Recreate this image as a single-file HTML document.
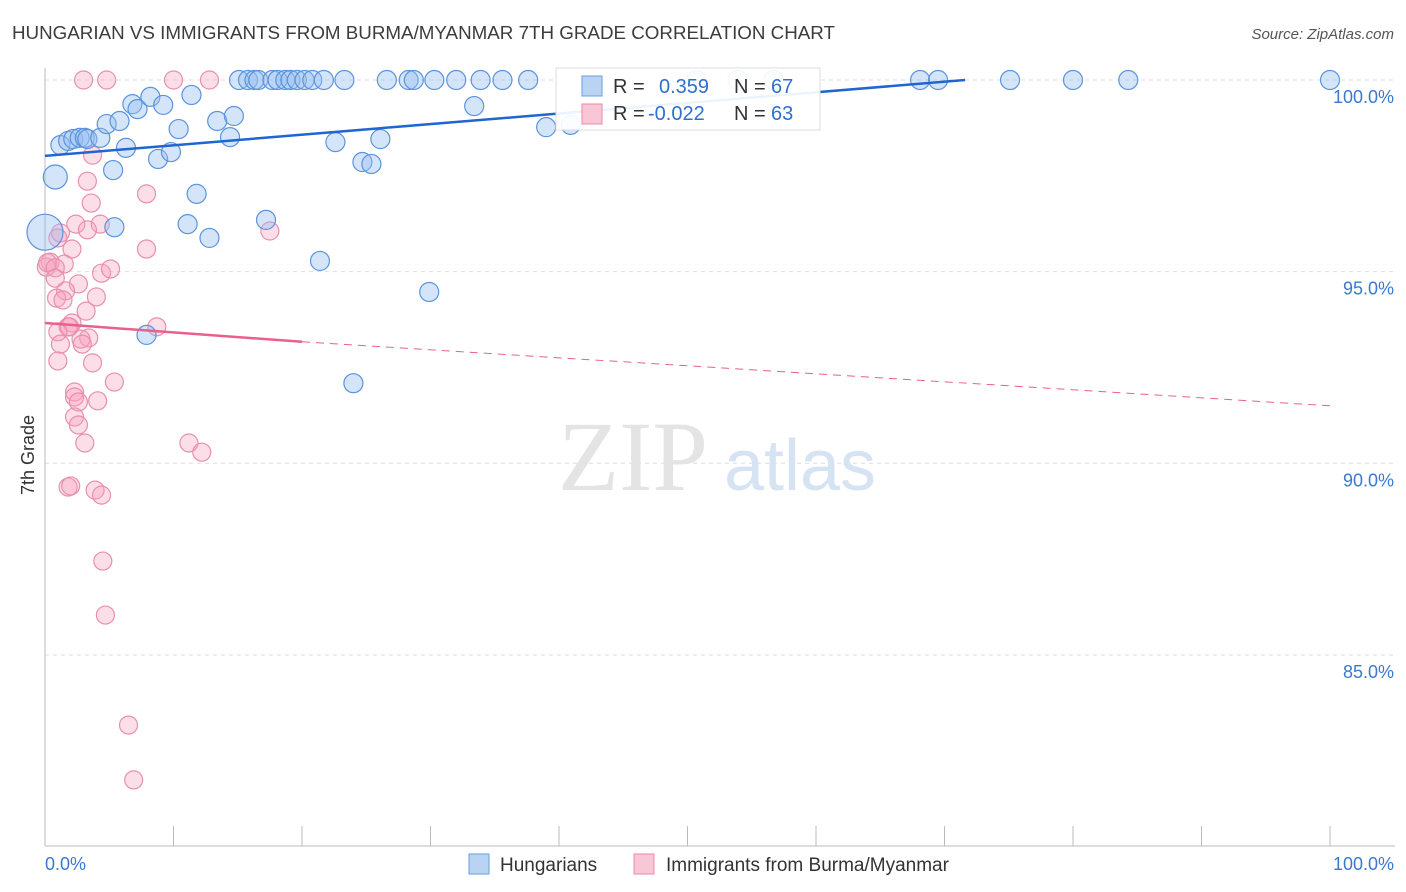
<!DOCTYPE html>
<html><head><meta charset="utf-8"><style>
body{margin:0;background:#fff;font-family:"Liberation Sans",sans-serif}
svg{display:block}
</style></head><body>
<svg id="chart" width="1406" height="892">
<text x="12" y="39" font-size="18" textLength="823" lengthAdjust="spacingAndGlyphs" fill="#3c3c3c">HUNGARIAN VS IMMIGRANTS FROM BURMA/MYANMAR 7TH GRADE CORRELATION CHART</text>
<text x="1394" y="39" font-size="15" fill="#555" font-style="italic" text-anchor="end">Source: ZipAtlas.com</text>
<g id="grid"></g>
<g id="watermark">
<text x="633" y="490" font-size="100" fill="#e4e4e4" font-family="Liberation Serif,serif" text-anchor="middle">ZIP</text>
<text x="800" y="490" font-size="72" fill="#d6e3f3" text-anchor="middle">atlas</text>
</g>
<g id="points"></g>
<g id="trends"></g>
<text transform="translate(34,455) rotate(-90)" font-size="18" fill="#333" text-anchor="middle">7th Grade</text>
<g>
<rect x="556" y="68" width="264" height="62" fill="rgba(255,255,255,0.92)" stroke="#ddd"/>
<rect x="582" y="76" width="20" height="20" fill="#b9d3f3" stroke="#6a9de0"/>
<rect x="582" y="104" width="20" height="20" fill="#f9c6d6" stroke="#e88aa8"/>
<text x="613" y="93" font-size="20" fill="#333">R = </text><text x="659" y="93" font-size="20" fill="#2e6fd0">0.359</text>
<text x="734" y="93" font-size="20" fill="#333">N = </text><text x="771" y="93" font-size="20" fill="#2e6fd0">67</text>
<text x="613" y="120" font-size="20" fill="#333">R = </text><text x="648" y="120" font-size="20" fill="#2e6fd0">-0.022</text>
<text x="734" y="120" font-size="20" fill="#333">N = </text><text x="771" y="120" font-size="20" fill="#2e6fd0">63</text>
</g>
<g>
<rect x="469" y="854" width="20" height="20" fill="#b9d3f3" stroke="#6a9de0"/>
<text x="500" y="871" font-size="19" fill="#333">Hungarians</text>
<rect x="634" y="854" width="20" height="20" fill="#f9c6d6" stroke="#e88aa8"/>
<text x="666" y="871" font-size="19" fill="#333">Immigrants from Burma/Myanmar</text>
</g>
</svg>
<script>
const yTicks=[100,95,90,85];
const xTickLabels=["0.0%","100.0%"];
const hunX=[0.8,0,1.2,1.8,2.2,2.7,3.1,3.3,4.3,4.8,5.3,5.4,5.8,6.3,6.8,7.2,8.2,8.8,9.2,9.8,10.4,11.1,11.4,11.8,12.8,13.4,14.4,14.7,17.2,15.1,15.8,16.3,16.6,17.7,18.1,18.7,19.1,19.6,20.2,20.8,21.7,23.3,26.6,28.3,28.7,30.3,32.0,33.9,35.6,37.6,50.7,53.9,56.7,68.1,69.5,75.1,80.0,84.3,100,21.4,22.6,24.7,25.4,26.1,29.9,24.0,7.9,33.4,39.0,40.9];
const hunY=[97.47,96.03,98.30,98.41,98.46,98.49,98.49,98.46,98.49,98.85,97.65,96.16,98.93,98.23,99.37,99.24,99.56,97.94,99.35,98.12,98.72,96.24,99.61,97.03,95.88,98.93,98.51,99.06,96.35,100,100,100,100,100,100,100,100,100,100,100,100,100,100,100,100,100,100,100,100,100,100,100,100,100,100,100,100,100,100,95.28,98.38,97.86,97.81,98.46,94.47,92.09,93.35,99.32,98.77,98.83];
const burX=[3.0,4.8,10.0,12.8,3.7,3.3,7.9,3.6,2.4,4.3,3.3,1.2,1.0,2.1,7.9,17.5,0.4,0.1,0.2,1.5,0.8,4.4,5.1,0.8,2.6,1.6,4.0,0.9,1.4,3.2,2.1,1.8,1.9,8.7,1.0,3.4,2.8,1.2,2.9,1.0,3.7,5.4,2.3,2.3,2.6,4.1,2.3,2.6,3.1,11.2,12.2,1.8,2.0,3.9,4.4,4.5,4.7,6.5,6.9];
const burY=[100,100,100,100,98.04,97.36,97.03,96.79,96.24,96.24,96.09,96.01,95.88,95.59,95.59,96.06,95.25,95.12,95.23,95.20,95.10,94.96,95.07,94.83,94.68,94.50,94.34,94.31,94.26,93.97,93.66,93.56,93.56,93.56,93.43,93.27,93.24,93.11,93.11,92.67,92.62,92.12,91.86,91.73,91.60,91.63,91.21,91.00,90.53,90.53,90.29,89.38,89.41,89.30,89.17,87.45,86.04,83.17,81.74];
const hunTrend=[[0,98.02],[71.6,100]];
const burTrend=[[0,93.66],[20,93.17],[100,91.5]];
const NS="http://www.w3.org/2000/svg";
const sx=v=>45+v*12.85, sy=v=>80+(100-v)*38.33;
function mk(t,a,p){const e=document.createElementNS(NS,t);for(const k in a)e.setAttribute(k,a[k]);p.appendChild(e);return e;}
const grid=document.getElementById('grid');
yTicks.forEach(t=>{
 const l=mk('line',{x1:45,x2:1395,y1:sy(t),y2:sy(t),stroke:'#ddd','stroke-dasharray':'4,4'},grid);
 
 
 const tx=mk('text',{x:1394,y:sy(t)+23,'font-size':18,fill:'#3b78d0','text-anchor':'end'},grid);
 tx.textContent=t.toFixed(1)+'%';
 
 
});
mk('line',{x1:45,x2:45,y1:68,y2:846,stroke:'#bbb'},grid);
mk('line',{x1:45,x2:1395,y1:846,y2:846,stroke:'#bbb'},grid);
for(let i=0;i<=10;i++){mk('line',{x1:sx(i*10),x2:sx(i*10),y1:826,y2:846,stroke:'#bbb'},grid);}
const xl0=mk('text',{x:45,y:870,'font-size':18,fill:'#3b78d0'},grid);xl0.textContent=xTickLabels[0];


const xl1=mk('text',{x:1394,y:870,'font-size':18,fill:'#3b78d0','text-anchor':'end'},grid);xl1.textContent=xTickLabels[1];


const pts=document.getElementById('points');
burX.forEach((x,i)=>{const c=mk('circle',{cx:sx(x),cy:sy(burY[i]),r:9,fill:'rgba(245,160,190,0.35)',stroke:'#e98fae','stroke-width':1.2},pts);
 
 });
hunX.forEach((x,i)=>{const r=i===0?12:(i===1?18:9.5);const c=mk('circle',{cx:sx(x),cy:sy(hunY[i]),r:r,fill:'rgba(150,190,240,0.4)',stroke:'#5b93dc','stroke-width':1.2},pts);
 
 });
const tr=document.getElementById('trends');
const hl=mk('line',{x1:sx(hunTrend[0][0]),y1:sy(hunTrend[0][1]),x2:sx(hunTrend[1][0]),y2:sy(hunTrend[1][1]),stroke:'#1f66d1','stroke-width':2.5},tr);


const bl=mk('line',{x1:sx(burTrend[0][0]),y1:sy(burTrend[0][1]),x2:sx(burTrend[1][0]),y2:sy(burTrend[1][1]),stroke:'#e8608f','stroke-width':2.5},tr);


const bd=mk('line',{x1:sx(burTrend[1][0]),y1:sy(burTrend[1][1]),x2:sx(burTrend[2][0]),y2:sy(burTrend[2][1]),stroke:'#e8608f','stroke-width':1,'stroke-dasharray':'8,6'},tr);


</script>
</body></html>
